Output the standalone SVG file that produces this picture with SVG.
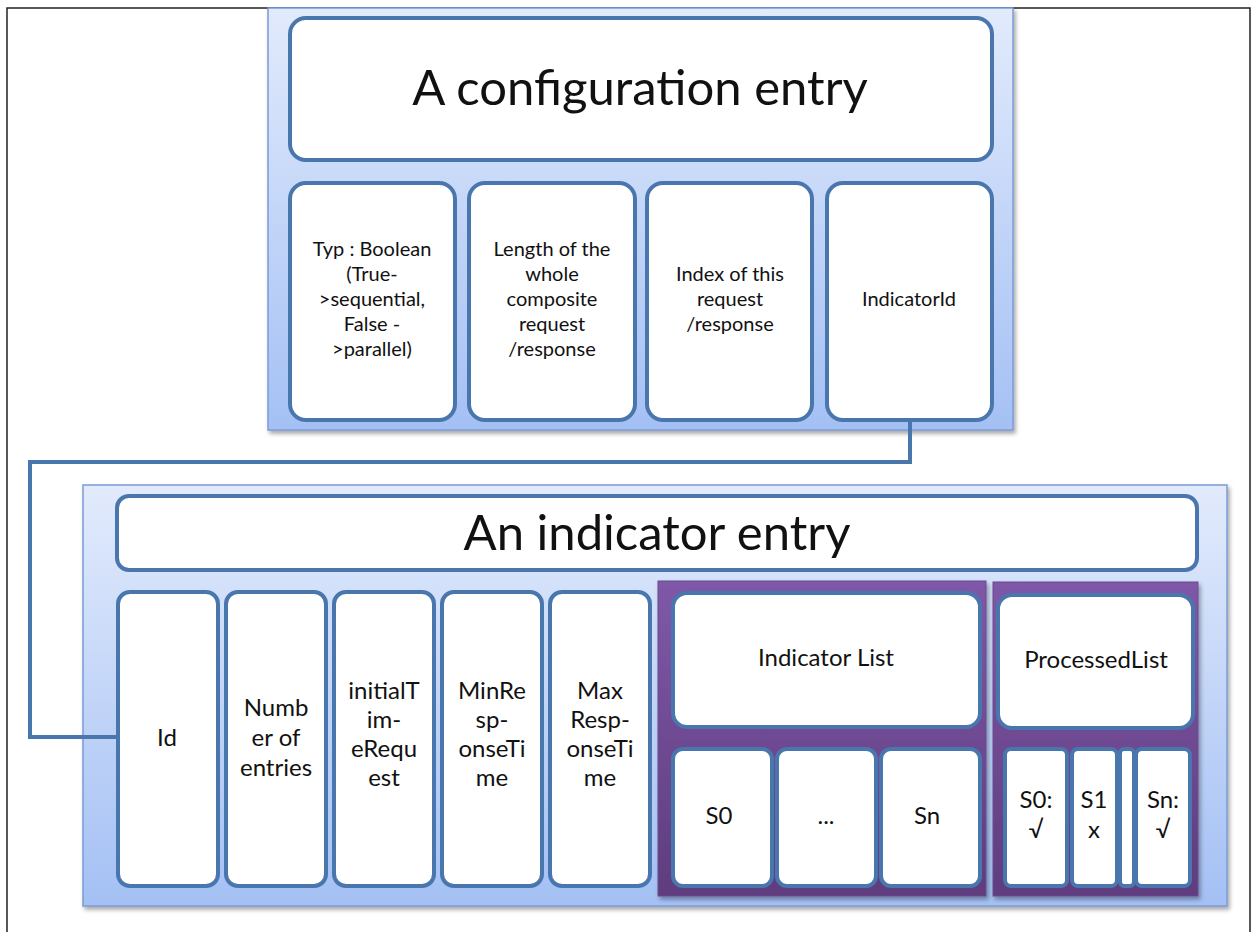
<svg xmlns="http://www.w3.org/2000/svg" width="1253" height="932" viewBox="0 0 1253 932">
<defs>
<linearGradient id="blueG" x1="0" y1="0" x2="0" y2="1">
<stop offset="0" stop-color="#e2ebfc"/>
<stop offset="1" stop-color="#a4c0f4"/>
</linearGradient>
<linearGradient id="purpG" x1="0" y1="0" x2="0" y2="1">
<stop offset="0" stop-color="#7f58a8"/>
<stop offset="1" stop-color="#5e3d7e"/>
</linearGradient>
<filter id="sh" x="-5%" y="-5%" width="110%" height="110%">
<feDropShadow dx="2" dy="3" stdDeviation="2" flood-color="#000" flood-opacity="0.35"/>
</filter>
</defs>
<style>
.cont{fill:url(#blueG);stroke:#7b9bd6;stroke-width:1.5;filter:url(#sh)}
.purp{fill:url(#purpG);stroke:#6a4a8e;stroke-width:1;filter:url(#sh)}
.box{fill:#fff;stroke:#4a76ae;stroke-width:4}
text{font-family:Lato,"Open Sans","Liberation Sans",sans-serif;fill:#111;text-anchor:middle}
.big{font-size:49px}
.sm{font-size:20px}
.md{font-size:24px}
.conn{fill:none;stroke:#4a76ae;stroke-width:4}
</style>
<rect x="0" y="0" width="1253" height="932" fill="#fff"/>
<path d="M7 932 V8 H1250 V932" fill="none" stroke="#222" stroke-width="1.5"/>

<g id="config">
<rect class="cont" x="268" y="8" width="745" height="422"/>
<g id="config-title"><rect class="box" x="290" y="18" width="702" height="142" rx="16"/>
<text class="big" x="640" y="105">A configuration entry</text></g>
<g id="typ"><rect class="box" x="290" y="183" width="165" height="237" rx="16"/>
<text class="sm"><tspan x="372" y="256">Typ : Boolean</tspan><tspan x="372" y="281">(True-</tspan><tspan x="372" y="306">&gt;sequential,</tspan><tspan x="372" y="331">False -</tspan><tspan x="372" y="356">&gt;parallel)</tspan></text></g>
<g id="length"><rect class="box" x="469" y="183" width="166" height="237" rx="16"/>
<text class="sm"><tspan x="552" y="256">Length of the</tspan><tspan x="552" y="281">whole</tspan><tspan x="552" y="306">composite</tspan><tspan x="552" y="331">request</tspan><tspan x="552" y="356">/response</tspan></text></g>
<g id="index"><rect class="box" x="647" y="183" width="165" height="237" rx="16"/>
<text class="sm"><tspan x="730" y="281">Index of this</tspan><tspan x="730" y="306">request</tspan><tspan x="730" y="331">/response</tspan></text></g>
<g id="indicatorId"><rect class="box" x="827" y="183" width="165" height="237" rx="16"/>
<text class="sm" x="909" y="306">IndicatorId</text></g>
</g>

<g id="indicator">
<rect class="cont" x="83" y="485" width="1144" height="421"/>
<g id="ind-title"><rect class="box" x="117" y="496" width="1080" height="74" rx="12"/>
<text class="big" x="657" y="550">An indicator entry</text></g>
<g id="id"><rect class="box" x="118" y="592" width="100" height="294" rx="12"/>
<text class="md" x="167" y="746">Id</text></g>
<g id="number"><rect class="box" x="226" y="592" width="100" height="294" rx="12"/>
<text class="md"><tspan x="276" y="716">Numb</tspan><tspan x="276" y="746">er of</tspan><tspan x="276" y="776">entries</tspan></text></g>
<g id="initial"><rect class="box" x="334" y="592" width="100" height="294" rx="12"/>
<text class="md"><tspan x="384" y="699">initialT</tspan><tspan x="384" y="728">im-</tspan><tspan x="384" y="757">eRequ</tspan><tspan x="384" y="786">est</tspan></text></g>
<g id="minresp"><rect class="box" x="442" y="592" width="100" height="294" rx="12"/>
<text class="md"><tspan x="492" y="699">MinRe</tspan><tspan x="492" y="728">sp-</tspan><tspan x="492" y="757">onseTi</tspan><tspan x="492" y="786">me</tspan></text></g>
<g id="maxresp"><rect class="box" x="550" y="592" width="100" height="294" rx="12"/>
<text class="md"><tspan x="600" y="699">Max</tspan><tspan x="600" y="728">Resp-</tspan><tspan x="600" y="757">onseTi</tspan><tspan x="600" y="786">me</tspan></text></g>

<g id="indicatorList">
<rect class="purp" x="658" y="581" width="328" height="315"/>
<rect class="box" x="673" y="593" width="307" height="134" rx="14"/>
<text class="md" x="826" y="666">Indicator List</text>
<g id="il-s0"><rect class="box" x="673" y="749" width="99" height="137" rx="10"/><text class="md" x="719" y="824">S0</text></g>
<g id="il-dots"><rect class="box" x="777" y="749" width="99" height="137" rx="10"/><text class="md" x="826" y="824">...</text></g>
<g id="il-sn"><rect class="box" x="881" y="749" width="99" height="137" rx="10"/><text class="md" x="927" y="824">Sn</text></g>
</g>

<g id="processedList">
<rect class="purp" x="993" y="582" width="205" height="314"/>
<rect class="box" x="998" y="595" width="195" height="133" rx="14"/>
<text class="md" x="1096" y="668">ProcessedList</text>
<g id="pl-s0"><rect class="box" x="1005" y="749" width="62" height="137" rx="6"/><text class="md"><tspan x="1036" y="808">S0:</tspan><tspan x="1036" y="838">√</tspan></text></g>
<g id="pl-s1"><rect class="box" x="1072" y="749" width="45" height="137" rx="6"/><text class="md"><tspan x="1094" y="808">S1</tspan><tspan x="1094" y="838">x</tspan></text></g>
<g id="pl-gap"><rect class="box" x="1120" y="749" width="14" height="137" rx="4"/></g>
<g id="pl-sn"><rect class="box" x="1136" y="749" width="54" height="137" rx="6"/><text class="md"><tspan x="1163" y="808">Sn:</tspan><tspan x="1163" y="838">√</tspan></text></g>
</g>
</g>

<g id="connectors">
<path class="conn" d="M910 421 V462 H30 V737 H118"/>
</g>
</svg>
